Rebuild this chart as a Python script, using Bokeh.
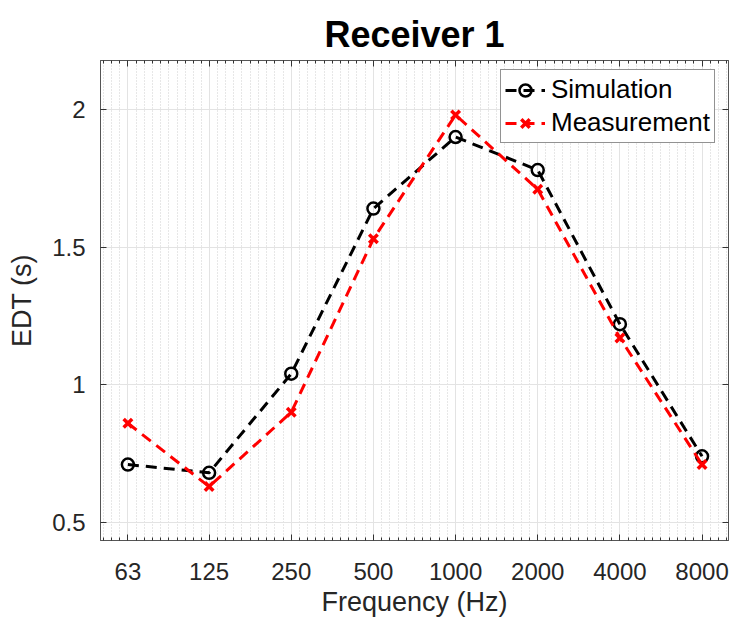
import numpy as np
from bokeh.plotting import figure
from bokeh.models import (FixedTicker, Range1d, LinearAxis, LogAxis,
                          CustomJSTickFormatter)
from bokeh.embed import file_html
from bokeh.resources import INLINE

freq = [63, 125, 250, 500, 1000, 2000, 4000, 8000]
tick_labels = ["63", "125", "250", "500", "1000", "2000", "4000", "8000"]
simulation = [0.71, 0.68, 1.04, 1.64, 1.90, 1.78, 1.22, 0.74]
measurement = [0.86, 0.63, 0.90, 1.53, 1.98, 1.71, 1.17, 0.71]
y_ticks = [0.5, 1, 1.5, 2]

FONT = "Liberation Sans"
TXT = "#262626"
AX = "#555555"

p = figure(x_axis_type="log", output_backend="svg", toolbar_location=None,
           width=731, height=619,
           min_border_left=100, min_border_top=60, min_border_right=3,
           min_border_bottom=78,
           x_range=Range1d(50, 10000), y_range=Range1d(0.434, 2.178),
           title="Receiver 1")

# minor ticks: evenly spaced (log) within each octave
minors = []
for f in [31.5] + freq:
    for k in range(1, 10):
        v = f * 2 ** (k / 10)
        if 50 < v < 10000:
            minors.append(v)

xticker = FixedTicker(ticks=freq, minor_ticks=minors)
yticker = FixedTicker(ticks=y_ticks)
p.xaxis.ticker = xticker
p.xaxis.major_label_overrides = {f: l for f, l in zip(freq, tick_labels)}
p.yaxis.ticker = yticker

p.title.text_font = FONT
p.title.text_font_size = "36px"
p.title.text_font_style = "bold"
p.title.text_color = "#000000"
p.title.align = "center"
p.title.standoff = 11

for ax in (p.xaxis, p.yaxis):
    ax.major_label_text_font = FONT
    ax.major_label_text_font_size = "24px"
    ax.major_label_text_color = TXT
    ax.axis_label_text_font = FONT
    ax.axis_label_text_font_size = "27px"
    ax.axis_label_text_font_style = "normal"
    ax.axis_label_text_color = TXT
    ax.axis_line_color = AX
    ax.major_tick_line_color = "#333333"
    ax.minor_tick_line_color = "#333333"
    ax.major_tick_in = 6
    ax.major_tick_out = 0
    ax.minor_tick_in = 3
    ax.minor_tick_out = 0

p.yaxis.minor_tick_line_color = None
p.xaxis.axis_label = "Frequency (Hz)"
p.yaxis.axis_label = "EDT (s)"
p.xaxis.major_label_standoff = 22
p.xaxis.axis_label_standoff = 4
p.yaxis.major_label_standoff = 15
p.yaxis.axis_label_standoff = 12

# tick marks on the top and right sides of the box (no labels)
blank = CustomJSTickFormatter(code="return ''")
top = LogAxis(ticker=xticker, formatter=blank,
              major_label_standoff=6, axis_line_color=AX,
              major_tick_in=6, major_tick_out=0, minor_tick_in=3,
              minor_tick_out=0, major_tick_line_color="#333333",
              minor_tick_line_color="#333333")
right = LinearAxis(ticker=yticker, formatter=blank,
                   major_label_standoff=0, axis_line_color=AX,
                   major_tick_in=6, major_tick_out=0,
                   minor_tick_line_color=None,
                   major_tick_line_color="#333333")
p.add_layout(top, "above")
p.add_layout(right, "right")

p.outline_line_color = AX
p.outline_line_width = 1

p.xgrid.grid_line_color = "#e3e3e3"
p.ygrid.grid_line_color = "#e3e3e3"
p.xgrid.minor_grid_line_color = "#cfcfcf"
p.xgrid.minor_grid_line_dash = "1 2"

p.line(freq, simulation, color="black", line_width=3, line_dash="11 7",
       legend_label="Simulation")
p.scatter(freq, simulation, marker="circle", size=12, fill_color=None,
          line_color="black", line_width=2.5, legend_label="Simulation")
p.line(freq, measurement, color="red", line_width=3, line_dash="11 7",
       legend_label="Measurement")
p.scatter(freq, measurement, marker="x", size=12, line_color="red",
          line_width=3.5, legend_label="Measurement")

p.legend.location = (400, 397)
p.legend.margin = 0
p.legend.padding = 4
p.legend.spacing = 2
p.legend.glyph_width = 40
p.legend.glyph_height = 30
p.legend.label_height = 30
p.legend.label_standoff = 6
p.legend.label_text_font = FONT
p.legend.label_text_font_size = "26px"
p.legend.label_text_color = "#000000"
p.legend.border_line_color = "#262626"
p.legend.border_line_width = 1
p.legend.background_fill_alpha = 1

open("out.html", "w").write(file_html(p, INLINE))
